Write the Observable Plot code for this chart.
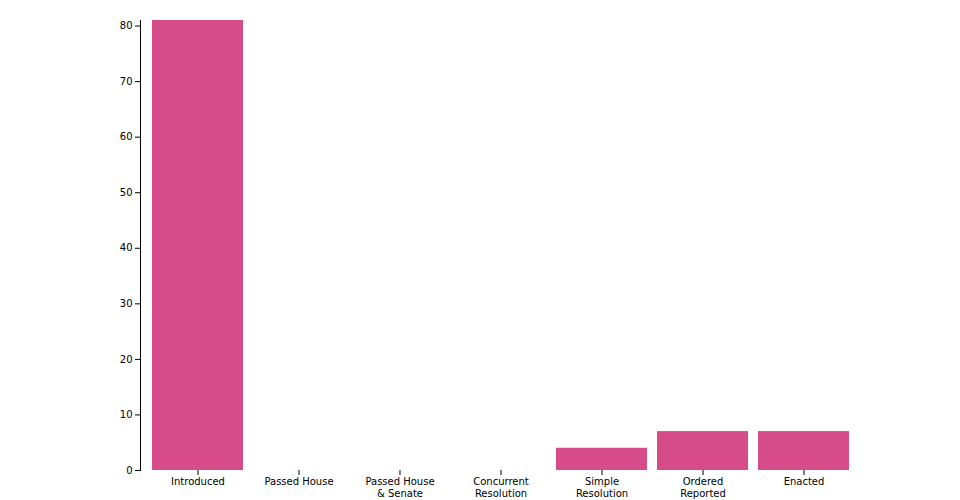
<!DOCTYPE html>
<html>
<head>
<meta charset="utf-8">
<script src="https://cdn.jsdelivr.net/npm/d3@7"></script>
<script src="https://cdn.jsdelivr.net/npm/@observablehq/plot@0.6"></script>
<style>
  body { margin: 0; background: #fff; }
</style>
</head>
<body>
<div id="chart"></div>
<script>
const stages = ["Introduced", "Passed House", "Passed House\n& Senate", "Concurrent\nResolution", "Simple\nResolution", "Ordered\nReported", "Enacted"];
const counts = [81, 0, 0, 0, 4, 7, 7];
const yTicks = [0, 10, 20, 30, 40, 50, 60, 70, 80];

const data = stages.map((s, i) => ({stage: s, count: counts[i]}));

const chart = Plot.plot({
  width: 960,
  height: 500,
  marginTop: 20,
  marginBottom: 30,
  marginLeft: 141,
  marginRight: 101,
  style: {fontFamily: "DejaVu Sans, sans-serif", fontSize: "10px", background: "#fff", color: "#000"},
  x: {domain: stages, label: null, padding: 0.1},
  y: {domain: [0, 81], label: null},
  marks: [
    Plot.barY(data, {x: "stage", y: "count", fill: "#d64c89"}),
    Plot.axisY({ticks: yTicks, tickSize: 6, label: null, strokeOpacity: 1}),
    Plot.frame({anchor: "left", dx: -1, strokeOpacity: 1}),
    Plot.axisX({tickSize: 5, label: null, tickPadding: 1, lineHeight: 1.2, strokeOpacity: 1})
  ]
});
document.getElementById("chart").appendChild(chart);
</script>
</body>
</html>
